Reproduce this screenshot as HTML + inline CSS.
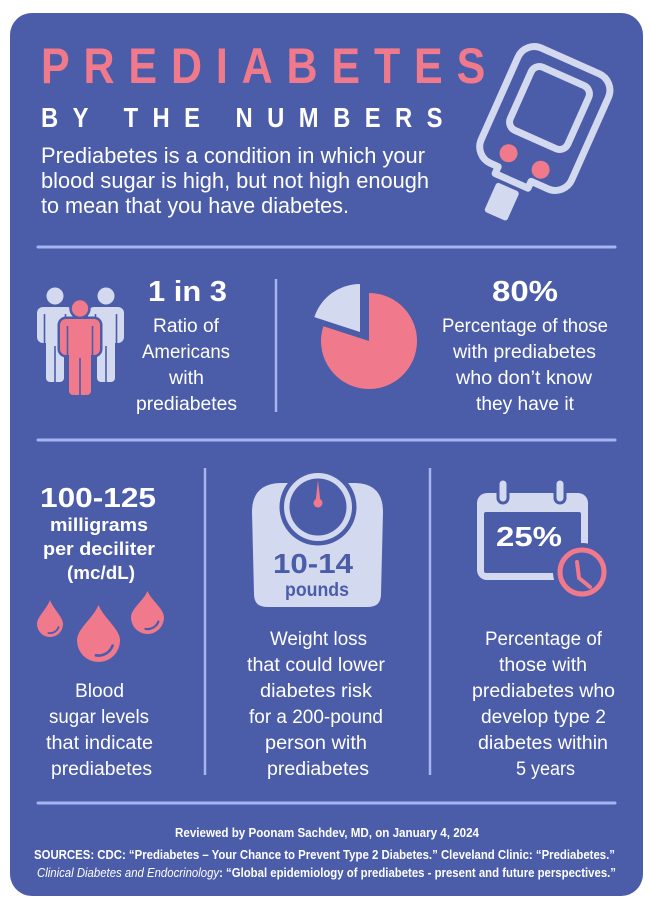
<!DOCTYPE html>
<html>
<head>
<meta charset="utf-8">
<style>
html,body{margin:0;padding:0;background:#fff;}
svg{display:block;}
text{font-family:"Liberation Sans", sans-serif;}
</style>
</head>
<body>
<svg width="650" height="910" viewBox="0 0 650 910" xmlns="http://www.w3.org/2000/svg">
<rect width="650" height="910" fill="#ffffff"/>
<rect x="10" y="13" width="633" height="883" rx="22" fill="#4b5ca9"/>

<!-- Header -->
<text transform="translate(41,83) scale(0.86,1)" font-size="50" font-weight="bold" fill="#f07a8c" letter-spacing="16.1">PREDIABETES</text>
<text transform="translate(41,127) scale(0.85,1)" font-size="28" font-weight="bold" fill="#ffffff" letter-spacing="17">BY THE NUMBERS</text>

<text x="41" y="163" font-size="22" fill="#fff" textLength="384" lengthAdjust="spacingAndGlyphs">Prediabetes is a condition in which your</text>
<text x="41" y="188" font-size="22" fill="#fff" textLength="388" lengthAdjust="spacingAndGlyphs">blood sugar is high, but not high enough</text>
<text x="41" y="213" font-size="22" fill="#fff" textLength="308" lengthAdjust="spacingAndGlyphs">to mean that you have diabetes.</text>

<!-- Glucose meter -->
<g transform="translate(549.5,108) rotate(24)">
  <path d="M -31.5,-51.5 H 31.5 A 18 18 0 0 1 49.5,-33.5 V 56.5 A 18 18 0 0 1 31.5,74.5 H 13 V 82 H -23 V 74.5 H -31.5 A 18 18 0 0 1 -49.5,56.5 V -33.5 A 18 18 0 0 1 -31.5,-51.5 Z" fill="none" stroke="#d3d9ee" stroke-width="7" stroke-linejoin="round"/>
  <rect x="-31.5" y="-34.5" width="63" height="69" rx="9" fill="none" stroke="#d3d9ee" stroke-width="7"/>
  <rect x="-18" y="89" width="25" height="32" rx="3" fill="#d3d9ee"/>
  <circle cx="-19" cy="58" r="9" fill="#f07a8c"/>
  <circle cx="17" cy="60" r="9" fill="#f07a8c"/>
</g>

<!-- Dividers -->
<g stroke="#a6b5ef" stroke-width="3" stroke-linecap="round">
  <line x1="38" y1="247" x2="615" y2="247"/>
  <line x1="38" y1="440" x2="615" y2="440"/>
  <line x1="38" y1="803" x2="615" y2="803"/>
</g>
<g stroke="#a6b5ef" stroke-width="2.5">
  <line x1="276" y1="279" x2="276" y2="412"/>
  <line x1="205" y1="468" x2="205" y2="775"/>
  <line x1="430" y1="468" x2="430" y2="775"/>
</g>

<!-- People icon -->
<g fill="#d3d9ee">
  <circle cx="55" cy="296" r="8.5"/>
  <rect x="37" y="307" width="36" height="36" rx="6"/>
  <rect x="46" y="330" width="18" height="52" rx="4"/>
  <circle cx="106" cy="296" r="8.5"/>
  <rect x="88" y="307" width="36" height="36" rx="6"/>
  <rect x="97" y="330" width="18" height="52" rx="4"/>
</g>
<g stroke="#4b5ca9" stroke-width="1.6">
  <line x1="44.5" y1="314" x2="44.5" y2="344"/>
  <line x1="65.5" y1="314" x2="65.5" y2="344"/>
  <line x1="55" y1="346" x2="55" y2="383"/>
  <line x1="95.5" y1="314" x2="95.5" y2="344"/>
  <line x1="116.5" y1="314" x2="116.5" y2="344"/>
  <line x1="106" y1="346" x2="106" y2="383"/>
</g>
<g fill="#4b5ca9" stroke="#4b5ca9" stroke-width="5">
  <circle cx="80" cy="308.5" r="8.2"/>
  <rect x="60" y="319" width="40" height="36" rx="6"/>
  <rect x="69" y="341" width="22" height="54" rx="4"/>
</g>
<g fill="#f07a8c">
  <circle cx="80" cy="308.5" r="8.2"/>
  <rect x="60" y="319" width="40" height="36" rx="6"/>
  <rect x="69" y="341" width="22" height="54" rx="4"/>
</g>
<g stroke="#4b5ca9" stroke-width="1.6">
  <line x1="67.5" y1="326" x2="67.5" y2="356"/>
  <line x1="92.5" y1="326" x2="92.5" y2="356"/>
  <line x1="80" y1="358" x2="80" y2="396"/>
</g>

<text x="148" y="301" font-size="29" font-weight="bold" fill="#fff" textLength="79" lengthAdjust="spacingAndGlyphs">1 in 3</text>
<text x="153" y="332" font-size="19" fill="#fff" textLength="66" lengthAdjust="spacingAndGlyphs">Ratio of</text>
<text x="142" y="358" font-size="19" fill="#fff" textLength="88" lengthAdjust="spacingAndGlyphs">Americans</text>
<text x="169" y="384" font-size="19" fill="#fff" textLength="35" lengthAdjust="spacingAndGlyphs">with</text>
<text x="136" y="410" font-size="19" fill="#fff" textLength="101" lengthAdjust="spacingAndGlyphs">prediabetes</text>

<!-- Pie -->
<path d="M 369,341 L 369,293 A 48 48 0 1 1 323.35,326.2 Z" fill="#f07a8c"/>
<path d="M 360,332 L 314.35,317.17 A 48 48 0 0 1 360,284 Z" fill="#d3d9ee"/>

<text x="492" y="301" font-size="29" font-weight="bold" fill="#fff" textLength="66" lengthAdjust="spacingAndGlyphs">80%</text>
<text x="442" y="332" font-size="19" fill="#fff" textLength="166" lengthAdjust="spacingAndGlyphs">Percentage of those</text>
<text x="453" y="358" font-size="19" fill="#fff" textLength="143" lengthAdjust="spacingAndGlyphs">with prediabetes</text>
<text x="456" y="384" font-size="19" fill="#fff" textLength="136" lengthAdjust="spacingAndGlyphs">who don’t know</text>
<text x="476" y="410" font-size="19" fill="#fff" textLength="98" lengthAdjust="spacingAndGlyphs">they have it</text>

<!-- Row 3 left -->
<text x="40" y="507" font-size="28" font-weight="bold" fill="#fff" textLength="116" lengthAdjust="spacingAndGlyphs">100-125</text>
<text x="50" y="531" font-size="18" font-weight="bold" fill="#fff" textLength="98" lengthAdjust="spacingAndGlyphs">milligrams</text>
<text x="43" y="555" font-size="18" font-weight="bold" fill="#fff" textLength="112" lengthAdjust="spacingAndGlyphs">per deciliter</text>
<text x="67" y="579" font-size="18" font-weight="bold" fill="#fff" textLength="68" lengthAdjust="spacingAndGlyphs">(mc/dL)</text>

<!-- Drops -->
<g fill="#f07a8c">
  <path transform="translate(50,624)" d="M 0,-24 C 3.25,-14.9 13,-7.15 13,0 A 13 13 0 0 1 -13,0 C -13,-7.15 -3.25,-14.9 0,-24 Z"/>
  <path transform="translate(98.5,640.5)" d="M 0,-35.5 C 5.4,-22 21.5,-11.8 21.5,0 A 21.5 21.5 0 0 1 -21.5,0 C -21.5,-11.8 -5.4,-22 0,-35.5 Z"/>
  <path transform="translate(147.5,617.5)" d="M 0,-26.5 C 4.1,-16.4 16.5,-9.1 16.5,0 A 16.5 16.5 0 0 1 -16.5,0 C -16.5,-9.1 -4.1,-16.4 0,-26.5 Z"/>
</g>
<g fill="none" stroke="#4b5ca9" stroke-linecap="round">
  <path transform="translate(50,624)" d="M 8.6,3.1 A 9.1 9.1 0 0 1 -1.6,9" stroke-width="1.8"/>
  <path transform="translate(98.5,640.5)" d="M 14.1,5.1 A 15 15 0 0 1 -2.6,14.8" stroke-width="2.6"/>
  <path transform="translate(147.5,617.5)" d="M 10.9,4 A 11.5 11.5 0 0 1 -2,11.4" stroke-width="2.2"/>
</g>

<text x="75" y="697" font-size="19" fill="#fff" textLength="49" lengthAdjust="spacingAndGlyphs">Blood</text>
<text x="49" y="723" font-size="19" fill="#fff" textLength="100" lengthAdjust="spacingAndGlyphs">sugar levels</text>
<text x="46" y="749" font-size="19" fill="#fff" textLength="107" lengthAdjust="spacingAndGlyphs">that indicate</text>
<text x="51" y="775" font-size="19" fill="#fff" textLength="101" lengthAdjust="spacingAndGlyphs">prediabetes</text>

<!-- Scale -->
<path d="M 252,512 Q 252,484 280,483 L 356,483 Q 383,484 383,512 L 381,594 Q 381,607 368,607 L 267,607 Q 254,607 254,594 Z" fill="#d3d9ee"/>
<circle cx="318" cy="507" r="38.5" fill="#4b5ca9"/>
<circle cx="318" cy="507" r="34" fill="#d3d9ee"/>
<circle cx="318" cy="507" r="28.5" fill="#4b5ca9"/>
<path d="M 318,480 L 320.6,503 L 315.4,503 Z" fill="#f07a8c"/>
<circle cx="318" cy="503" r="4.5" fill="#f07a8c"/>
<text x="273" y="573" font-size="28" font-weight="bold" fill="#4b5ca9" textLength="80" lengthAdjust="spacingAndGlyphs">10-14</text>
<text x="285" y="596" font-size="19" font-weight="bold" fill="#4b5ca9" textLength="64" lengthAdjust="spacingAndGlyphs">pounds</text>

<text x="270" y="645" font-size="19" fill="#fff" textLength="97" lengthAdjust="spacingAndGlyphs">Weight loss</text>
<text x="247" y="671" font-size="19" fill="#fff" textLength="138" lengthAdjust="spacingAndGlyphs">that could lower</text>
<text x="260" y="697" font-size="19" fill="#fff" textLength="112" lengthAdjust="spacingAndGlyphs">diabetes  risk</text>
<text x="249" y="723" font-size="19" fill="#fff" textLength="134" lengthAdjust="spacingAndGlyphs">for a 200-pound</text>
<text x="265" y="749" font-size="19" fill="#fff" textLength="102" lengthAdjust="spacingAndGlyphs">person with</text>
<text x="267" y="775" font-size="19" fill="#fff" textLength="102" lengthAdjust="spacingAndGlyphs">prediabetes</text>

<!-- Calendar -->
<rect x="477" y="493" width="111" height="87" rx="10" fill="#d3d9ee"/>
<rect x="484" y="512" width="97" height="61" rx="2" fill="#4b5ca9"/>
<rect x="498" y="479" width="10" height="24" rx="5" fill="#d3d9ee" stroke="#4b5ca9" stroke-width="3"/>
<rect x="555" y="479" width="10" height="24" rx="5" fill="#d3d9ee" stroke="#4b5ca9" stroke-width="3"/>
<circle cx="582" cy="572" r="29" fill="#4b5ca9"/>
<circle cx="582" cy="572" r="22" fill="none" stroke="#f07a8c" stroke-width="5"/>
<polyline points="577,562 579,578 590,587" fill="none" stroke="#f07a8c" stroke-width="4" stroke-linecap="round" stroke-linejoin="round"/>
<text x="496" y="546" font-size="28" font-weight="bold" fill="#fff" textLength="66" lengthAdjust="spacingAndGlyphs">25%</text>

<text x="485" y="645" font-size="19" fill="#fff" textLength="117" lengthAdjust="spacingAndGlyphs">Percentage of</text>
<text x="499" y="671" font-size="19" fill="#fff" textLength="88" lengthAdjust="spacingAndGlyphs">those with</text>
<text x="472" y="697" font-size="19" fill="#fff" textLength="143" lengthAdjust="spacingAndGlyphs">prediabetes who</text>
<text x="481" y="723" font-size="19" fill="#fff" textLength="125" lengthAdjust="spacingAndGlyphs">develop type 2</text>
<text x="478" y="749" font-size="19" fill="#fff" textLength="130" lengthAdjust="spacingAndGlyphs">diabetes within</text>
<text x="516" y="775" font-size="19" fill="#fff" textLength="59" lengthAdjust="spacingAndGlyphs">5 years</text>

<!-- Footer -->
<text x="175" y="837" font-size="12.5" font-weight="bold" fill="#fff" textLength="304" lengthAdjust="spacingAndGlyphs">Reviewed by  Poonam Sachdev, MD,  on January 4, 2024</text>
<text x="34" y="859" font-size="12.5" font-weight="bold" fill="#fff" textLength="581" lengthAdjust="spacingAndGlyphs">SOURCES:  CDC: “Prediabetes – Your Chance to Prevent Type 2 Diabetes.”  Cleveland Clinic: “Prediabetes.”</text>
<text x="37" y="877" font-size="12.5" font-weight="bold" fill="#fff" textLength="579" lengthAdjust="spacingAndGlyphs"><tspan font-style="italic" font-weight="normal">Clinical Diabetes and Endocrinology</tspan>: “Global epidemiology of prediabetes - present and future perspectives.”</text>
</svg>
</body>
</html>
